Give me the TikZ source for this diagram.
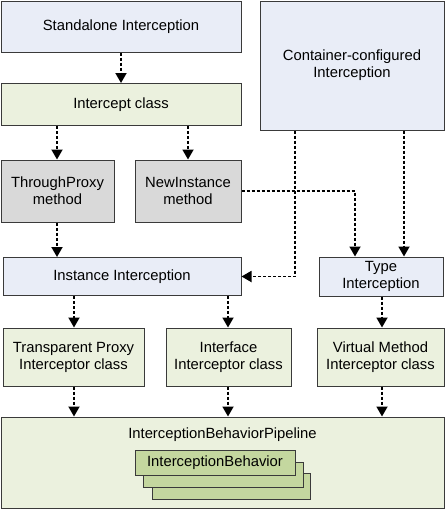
\documentclass[tikz,border=0pt]{standalone}
\usepackage{fontspec}
\setmainfont{Liberation Sans}
\usetikzlibrary{arrows.meta}
\definecolor{bluebox}{HTML}{E9EDF7}
\definecolor{greenbox}{HTML}{EBF1DE}
\definecolor{graybox}{HTML}{D9D9D9}
\definecolor{darkgreen}{HTML}{C4D79F}
\definecolor{edge}{HTML}{3A3A3A}
\begin{document}
\begin{tikzpicture}[x=1pt,y=-1pt,
  box/.style={draw=edge,line width=1pt,align=center,font=\fontsize{14.8}{17}\selectfont,inner sep=0pt},
  flow/.style={draw=black,line width=1.8pt,dash pattern=on 3pt off 2pt,-{Triangle[width=11pt,length=10pt]}}]
\useasboundingbox (0,0) rectangle (445,509);
% boxes
\node[box,fill=bluebox,minimum width=240pt,minimum height=51pt] (sa) at (121,26.5) {Standalone Interception};
\node[box,fill=bluebox,minimum width=184pt,minimum height=129pt] (cc) at (352,65.5) {Container-configured\\Interception};
\node[box,fill=greenbox,minimum width=240pt,minimum height=42pt] (ic) at (121,104.5) {Intercept class};
\node[box,fill=graybox,minimum width=113pt,minimum height=62pt] (tp) at (57.5,191) {ThroughProxy\\method};
\node[box,fill=graybox,minimum width=106pt,minimum height=62pt] (ni) at (188,191) {NewInstance\\method};
\node[box,fill=bluebox,minimum width=238pt,minimum height=38pt] (ii) at (122,276.5) {Instance Interception};
\node[box,fill=bluebox,minimum width=124pt,minimum height=39pt] (ti) at (381,276.5) {Type\\Interception};
\node[box,fill=greenbox,minimum width=141pt,minimum height=58pt] (tpi) at (73.5,357) {Transparent Proxy\\Interceptor class};
\node[box,fill=greenbox,minimum width=125pt,minimum height=58pt] (ifi) at (228.5,357) {Interface\\Interceptor class};
\node[box,fill=greenbox,minimum width=127pt,minimum height=58pt] (vmi) at (380.5,357) {Virtual Method\\Interceptor class};
\node[box,fill=greenbox,minimum width=443pt,minimum height=91pt] (pl) at (222.5,462.5) {};
\node[font=\fontsize{14.8}{17}\selectfont] (plt) at (222.5,435) {InterceptionBehaviorPipeline};
\node[box,fill=darkgreen,minimum width=158pt,minimum height=26pt] (b3) at (231,486) {};
\node[box,fill=darkgreen,minimum width=160pt,minimum height=25pt] (b2) at (223,474.5) {};
\node[box,fill=darkgreen,minimum width=160pt,minimum height=25pt] (b1) at (215,462.5) {InterceptionBehavior};
% connectors
\draw[flow] (sa.south) -- (ic.north);
\coordinate (c0) at (57,0);
\draw[flow] (ic.south -| c0) -- (c0 |- tp.north);
\draw[flow] (ic.south -| ni.north) -- (ni.north);
\draw[flow] (tp.south -| c0) -- (c0 |- ii.north);
\coordinate (c1) at (295,0);
\draw[flow] (cc.south -| c1) -- (c1 |- ii.east) -- (ii.east);
\coordinate (c2) at (404,0);
\draw[flow] (cc.south -| c2) -- (c2 |- ti.north);
\coordinate (c3) at (355,0);
\draw[flow] (ni.east) -- (c3 |- ni.east) -- (c3 |- ti.north);
\coordinate (c4) at (74,0);
\coordinate (c5) at (228,0);
\coordinate (c6) at (382,0);
\draw[flow] (ii.south -| c4) -- (c4 |- tpi.north);
\draw[flow] (ii.south -| c5) -- (c5 |- ifi.north);
\draw[flow] (ti.south -| c6) -- (c6 |- vmi.north);
\draw[flow] (tpi.south -| c4) -- (c4 |- pl.north);
\draw[flow] (ifi.south -| c5) -- (c5 |- pl.north);
\draw[flow] (vmi.south -| c6) -- (c6 |- pl.north);
\end{tikzpicture}
\end{document}
